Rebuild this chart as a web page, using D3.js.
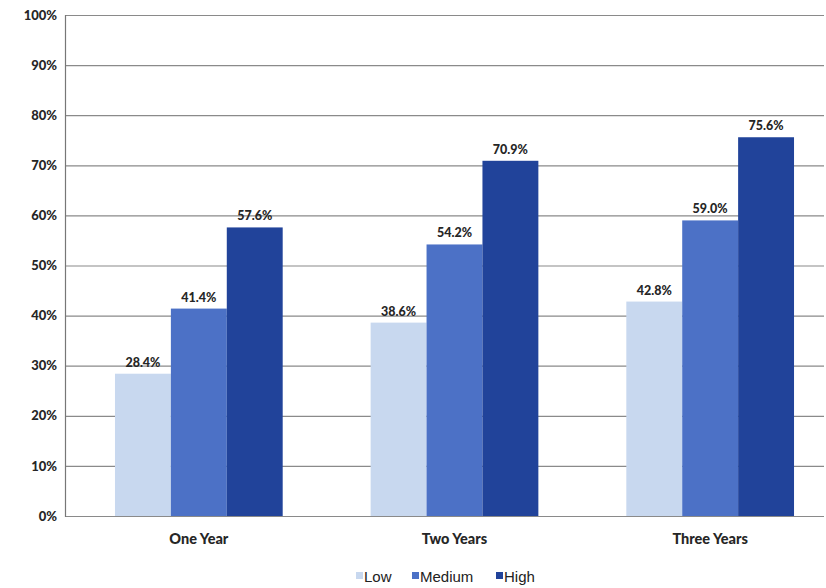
<!DOCTYPE html>
<html><head><meta charset="utf-8">
<script src="https://cdn.jsdelivr.net/npm/d3@7"></script>
<style>body{margin:0;background:#fff}svg{display:block}</style>
</head><body>
<svg id="c" width="826" height="588"></svg>
<script>
const categories = ["One Year", "Two Years", "Three Years"];
const seriesNames = ["Low", "Medium", "High"];
const low = [28.4, 38.6, 42.8];
const medium = [41.4, 54.2, 59.0];
const high = [57.6, 70.9, 75.6];
const yTicks = [0, 10, 20, 30, 40, 50, 60, 70, 80, 90, 100];
const colors = ["#c8d8ef", "#4c71c6", "#21439a"];

const series = [low, medium, high];
const svg = d3.select("#c");
const plotLeft = 65, plotRight = 824, plotTop = 15, plotBottom = 516;
const y = d3.scaleLinear().domain([0, 100]).range([plotBottom, plotTop]);
const x0 = d3.scaleBand().domain(categories).range([71, 838]).paddingInner(0.344).paddingOuter(0.172);
const x1 = d3.scaleBand().domain(seriesNames).range([0, x0.bandwidth()]);

// gridlines
svg.append("g").selectAll("line").data(yTicks).join("line")
  .attr("x1", plotLeft).attr("x2", plotRight)
  .attr("y1", d => y(d) + 0.5).attr("y2", d => y(d) + 0.5)
  .attr("stroke", "#8a8a8a").attr("stroke-width", 1.2);
// left axis line
svg.append("line").attr("x1", plotLeft + 0.5).attr("x2", plotLeft + 0.5)
  .attr("y1", plotTop).attr("y2", plotBottom + 1).attr("stroke", "#777").attr("stroke-width", 1.2);

// y tick labels
const yAxis = d3.axisLeft(y).tickValues(yTicks).tickFormat(d => d + "%").tickSize(0).tickPadding(8);
const ya = svg.append("g").attr("transform", `translate(${plotLeft},0)`).call(yAxis);
ya.select(".domain").remove();
ya.selectAll("text").attr("font-family", "Lato, 'Open Sans', sans-serif")
  .attr("font-weight", "900").attr("font-size", 13).attr("fill", "#262626");

// bars
const groups = svg.append("g").selectAll("g").data(categories).join("g")
  .attr("transform", d => `translate(${x0(d)},0)`);
groups.each(function(cat, ci) {
  const g = d3.select(this);
  seriesNames.forEach((s, si) => {
    const v = series[si][ci];
    g.append("rect").attr("x", x1(s)).attr("width", x1.bandwidth())
      .attr("y", y(v)).attr("height", y(0) - y(v)).attr("fill", colors[si]);
    g.append("text").attr("x", x1(s) + x1.bandwidth() / 2).attr("y", y(v) - 7)
      .attr("text-anchor", "middle").attr("font-family", "Lato, 'Open Sans', sans-serif")
      .attr("font-weight", "900").attr("font-size", 12.5).attr("fill", "#262626")
      .text(v.toFixed(1) + "%");
  });
});

// x axis
const xa = svg.append("g").attr("transform", `translate(0,${plotBottom})`)
  .call(d3.axisBottom(x0).tickSize(0).tickPadding(18));
xa.select(".domain").remove();
xa.selectAll("text").attr("font-family", "Lato, 'Open Sans', sans-serif")
  .attr("font-weight", "900").attr("font-size", 14.5).attr("fill", "#262626");

// legend
const legendX = [356, 412, 496];
const lg = svg.append("g").selectAll("g").data(seriesNames).join("g")
  .attr("transform", (d, i) => `translate(${legendX[i]},577)`);
lg.append("rect").attr("x", 0).attr("y", -5).attr("width", 7).attr("height", 7)
  .attr("fill", (d, i) => colors[i]);
lg.append("text").attr("x", 8).attr("y", 0).attr("dy", "0.35em")
  .attr("font-family", "'Liberation Sans', Arial, sans-serif").attr("font-size", 15).attr("fill", "#222")
  .text(d => d);
</script>
</body></html>
